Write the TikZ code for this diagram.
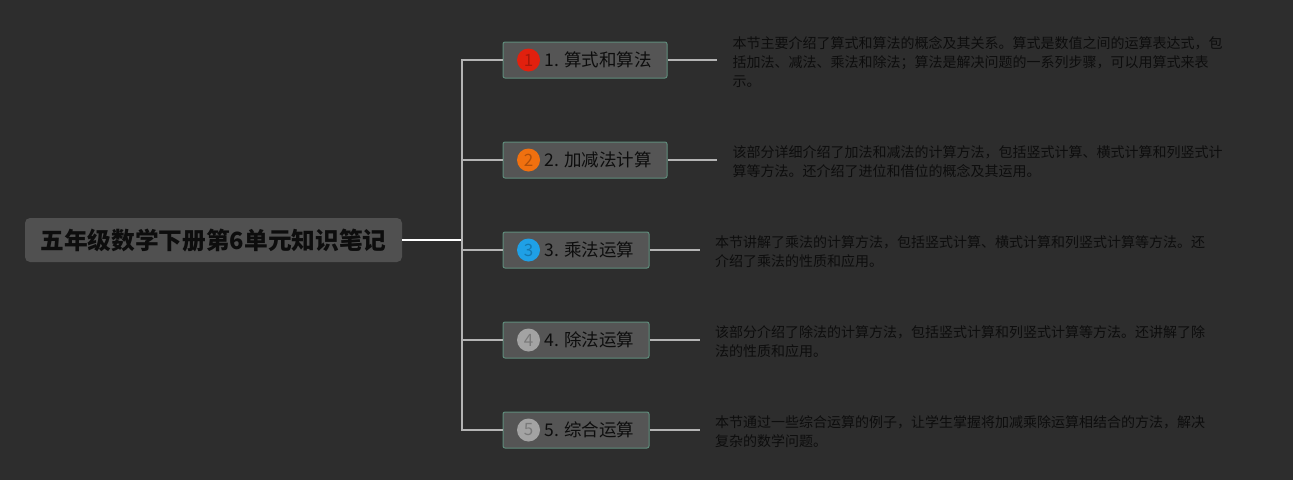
\documentclass[tikz,border=0pt]{standalone}
\usepackage{fontspec}
\setmainfont{Noto Sans CJK SC}
\newfontfamily\cjk{Noto Sans CJK SC}
\definecolor{bg}{HTML}{2D2D2D}
\definecolor{rootfill}{HTML}{505050}
\definecolor{topicfill}{HTML}{555555}
\definecolor{topicdraw}{HTML}{5F8C7B}
\definecolor{linecol}{HTML}{B4B4B4}
\definecolor{txt}{HTML}{0D0D0D}
\definecolor{bred}{HTML}{E1200E}
\definecolor{bredt}{HTML}{A8180A}
\definecolor{borange}{HTML}{F0700F}
\definecolor{boranget}{HTML}{B0500A}
\definecolor{bblue}{HTML}{1FA0E6}
\definecolor{bbluet}{HTML}{1478B0}
\definecolor{bgrey}{HTML}{A3A3A3}
\definecolor{bgreyt}{HTML}{7A7A7A}
\tikzset{
  rootbox/.style={fill=rootfill, rounded corners=5pt, minimum width=377pt, minimum height=44pt, inner sep=0pt,
    font=\cjk\bfseries\fontsize{23.7}{27}\selectfont, text=txt},
  topicbox/.style={fill=topicfill, draw=topicdraw, line width=1pt, rounded corners=2pt, minimum height=36pt, inner sep=0pt},
  topiclabel/.style={anchor=west, inner sep=0pt, font=\cjk\fontsize{17.5}{20}\selectfont, text=txt},
  badge/.style 2 args={circle, fill=#1, text=#2, minimum size=23pt, inner sep=0pt, font=\cjk\fontsize{17}{18}\selectfont},
  desc/.style={anchor=west, align=left, inner xsep=15.5pt, inner ysep=0pt, font=\cjk\fontsize{14}{19.3}\selectfont, text=txt},
  conn/.style={draw=linecol, line width=1.4pt},
  rootconn/.style={draw=white, line width=2pt},
}
\begin{document}
\begin{tikzpicture}[x=1pt,y=-1pt]
\fill[bg] (0,0) rectangle (1293,480);
\useasboundingbox (0,0) rectangle (1293,480);

\node[rootbox] (root) at (213.5,240) {五年级数学下册第6单元知识笔记};

% topics
\node[topicbox, minimum width=164pt] (t1) at (585,60) {};
\node[topicbox, minimum width=164pt] (t2) at (585,160) {};
\node[topicbox, minimum width=146pt] (t3) at (576,250) {};
\node[topicbox, minimum width=146pt] (t4) at (576,340) {};
\node[topicbox, minimum width=146pt] (t5) at (576,430) {};

\node[badge={bred}{bredt}] (b1) at ([xshift=26pt]t1.west) {1};
\node[badge={borange}{boranget}] (b2) at ([xshift=26pt]t2.west) {2};
\node[badge={bblue}{bbluet}] (b3) at ([xshift=26pt]t3.west) {3};
\node[badge={bgrey}{bgreyt}] (b4) at ([xshift=26pt]t4.west) {4};
\node[badge={bgrey}{bgreyt}] (b5) at ([xshift=26pt]t5.west) {5};

\node[topiclabel] (l1) at (544.5,60) {1. 算式和算法};
\node[topiclabel] (l2) at (544.5,160) {2. 加减法计算};
\node[topiclabel] (l3) at (544.5,250) {3. 乘法运算};
\node[topiclabel] (l4) at (544.5,340) {4. 除法运算};
\node[topiclabel] (l5) at (544.5,430) {5. 综合运算};

% descriptions
\node[desc] (d1) at (717,62) {本节主要介绍了算式和算法的概念及其关系。算式是数值之间的运算表达式，包\\括加法、减法、乘法和除法；算法是解决问题的一系列步骤，可以用算式来表\\示。};
\node[desc] (d2) at (717,161.5) {该部分详细介绍了加法和减法的计算方法，包括竖式计算、横式计算和列竖式计\\算等方法。还介绍了进位和借位的概念及其运用。};
\node[desc] (d3) at (699.5,251.5) {本节讲解了乘法的计算方法，包括竖式计算、横式计算和列竖式计算等方法。还\\介绍了乘法的性质和应用。};
\node[desc] (d4) at (699.5,341.5) {该部分介绍了除法的计算方法，包括竖式计算和列竖式计算等方法。还讲解了除\\法的性质和应用。};
\node[desc] (d5) at (699.5,431.5) {本节通过一些综合运算的例子，让学生掌握将加减乘除运算相结合的方法，解决\\复杂的数学问题。};

% connectors
\coordinate (j) at (462,240);
\draw[rootconn] (root.east) -- (j);
\foreach \t in {t1,t2,t3,t4,t5} {
  \draw[conn] (j) |- (\t.west);
}
\foreach \t/\d in {t1/d1,t2/d2,t3/d3,t4/d4,t5/d5} {
  \draw[conn] (\t.east) -- (\t.east -| \d.west);
}
\end{tikzpicture}
\end{document}
